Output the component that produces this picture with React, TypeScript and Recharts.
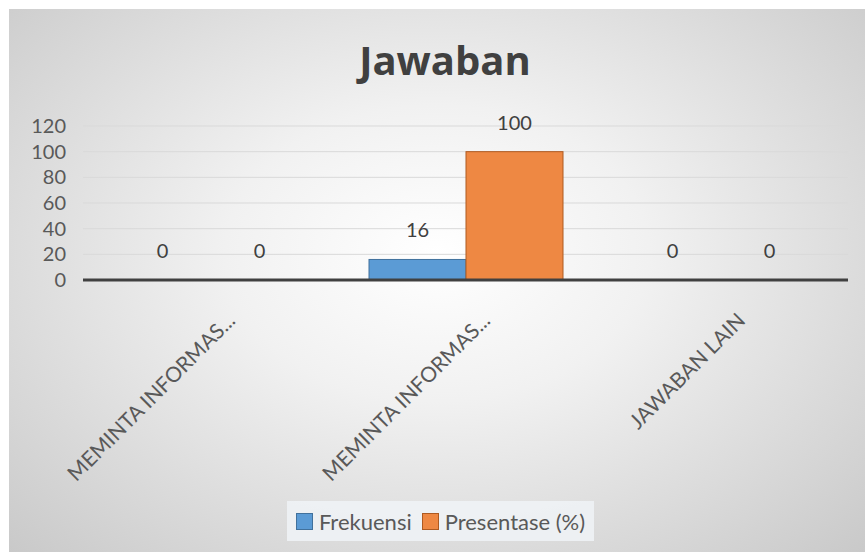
import React from 'react';
import { BarChart, Bar, XAxis, YAxis, CartesianGrid, Legend, LabelList } from 'recharts';

const categories = ['MEMINTA INFORMAS...', 'MEMINTA INFORMAS...', 'JAWABAN LAIN'];
const frekuensi = [0, 16, 0];
const presentase = [0, 100, 0];
const yTicks = [0, 20, 40, 60, 80, 100, 120];

const seriesNames = { frekuensi: 'Frekuensi', presentase: 'Presentase (%)' };
const BLUE = '#5B9BD5';
const ORANGE = '#EE8843';
const FONT = 'Lato, "Open Sans", sans-serif';

const chartData = categories.map((name, i) => ({
  name,
  frekuensi: frekuensi[i],
  presentase: presentase[i]
}));

// rotated category labels, like Excel's -45 deg
const AngledTick = ({ x, y, payload }: any) => (
  <g transform={`translate(${x + 26},${y + 42})`}>
    <text
      transform="rotate(-45)"
      textAnchor="end"
      fill="#595959"
      fontSize={21}
      fontFamily={FONT}
    >
      {payload.value}
    </text>
  </g>
);

// value labels drawn by hand so zero bars still get their "0"
const ValueLabel = (props: any) => {
  const { x, y, width, value } = props;
  return (
    <text
      x={Number(x) + Number(width) / 2}
      y={Number(y) - 22}
      textAnchor="middle"
      fill="#404040"
      fontSize={20}
      fontFamily={FONT}
    >
      {String(value)}
    </text>
  );
};

// skip the outline on empty bars
const BarShape = (props: any) => {
  const { x, y, width, height, fill, stroke } = props;
  if (Math.abs(height) < 1) return null;
  return <rect x={x} y={y} width={width} height={height} fill={fill} stroke={stroke} />;
};

const LegendBox = () => (
  <div style={{ display: 'flex', justifyContent: 'center', height: 50, paddingTop: 4, paddingLeft: 24, boxSizing: 'border-box' }}>
    <div
      style={{
        display: 'flex',
        alignItems: 'center',
        height: 40,
        padding: '0 9px',
        background: 'rgba(240,243,247,0.85)',
        fontFamily: FONT,
        fontSize: 22,
        color: '#595959'
      }}
    >
      <span style={{ width: 15, height: 15, background: BLUE, border: '1px solid #41719C', marginRight: 6 }} />
      <span style={{ marginRight: 10 }}>{seriesNames.frekuensi}</span>
      <span style={{ width: 15, height: 15, background: ORANGE, border: '1px solid #AE5A21', marginRight: 6 }} />
      <span>{seriesNames.presentase}</span>
    </div>
  </div>
);

const App: React.FC = () => {
  return (
    <div style={{ position: 'absolute', left: 0, top: 0, width: 865, height: 552, background: '#ffffff' }}>
      <div
        style={{
          position: 'absolute',
          left: 9,
          top: 9,
          width: 856,
          height: 543,
          background: 'radial-gradient(ellipse at 50% 45%, #ffffff 0%, #f1f1f1 35%, #c9c9c9 100%)'
        }}
      >
        <div
          style={{
            position: 'absolute',
            left: 8,
            top: 24,
            width: 856,
            textAlign: 'center',
            fontFamily: '"Open Sans", sans-serif',
            fontWeight: 700,
            fontSize: 40,
            color: '#404040',
            lineHeight: '54px'
          }}
        >
          Jawaban
        </div>
        <BarChart
          width={856}
          height={543}
          data={chartData}
          margin={{ top: 117, right: 17, left: 0, bottom: 5 }}
          barGap={0}
          barSize={97}
        >
          <CartesianGrid vertical={false} stroke="#d9d9d9" />
          <XAxis
            dataKey="name"
            height={217}
            interval={0}
            tickSize={0}
            tickMargin={0}
            tick={<AngledTick />}
            axisLine={{ stroke: '#404040', strokeWidth: 3 }}
            tickLine={false}
          />
          <YAxis
            width={74}
            domain={[0, 120]}
            ticks={yTicks}
            interval={0}
            axisLine={false}
            tickLine={false}
            tickSize={0}
            tickMargin={17}
            tick={{ fill: '#595959', fontSize: 20, fontFamily: FONT }}
          />
          <Legend verticalAlign="bottom" content={<LegendBox />} />
          <Bar
            dataKey="frekuensi"
            name={seriesNames.frekuensi}
            fill={BLUE}
            stroke="#41719C"
            minPointSize={0.01}
            shape={BarShape}
            isAnimationActive={false}
          >
            <LabelList dataKey="frekuensi" content={ValueLabel} />
          </Bar>
          <Bar
            dataKey="presentase"
            name={seriesNames.presentase}
            fill={ORANGE}
            stroke="#AE5A21"
            minPointSize={0.01}
            shape={BarShape}
            isAnimationActive={false}
          >
            <LabelList dataKey="presentase" content={ValueLabel} />
          </Bar>
        </BarChart>
      </div>
    </div>
  );
};

export default App;
